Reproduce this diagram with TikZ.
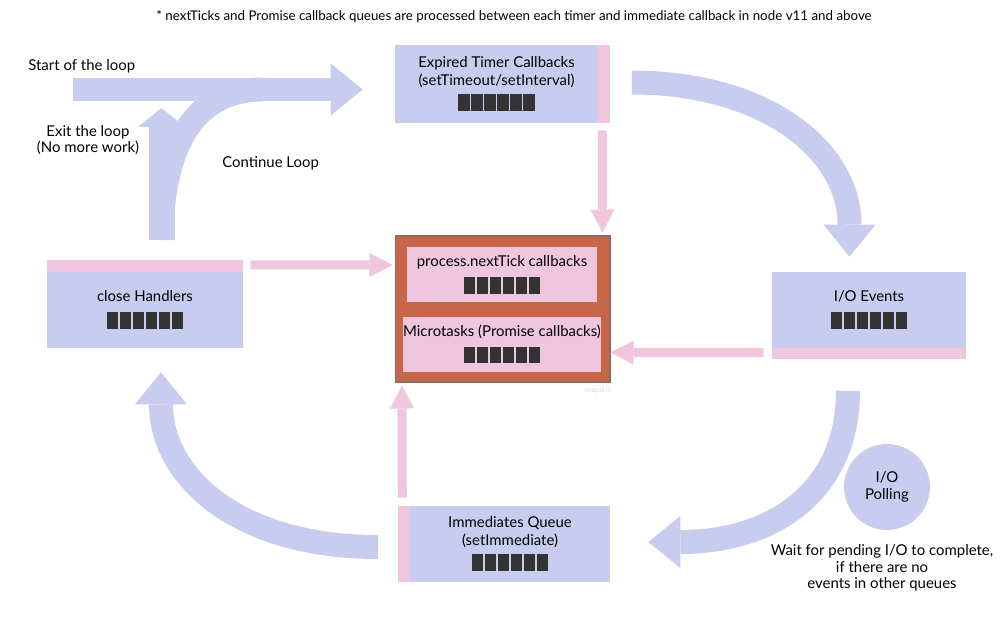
\documentclass[tikz,border=0pt]{standalone}
\usepackage{fontspec}
\setmainfont{Lato}
\usepackage{tikz}
\usetikzlibrary{positioning,calc,arrows.meta}

\definecolor{qblue}{HTML}{C8CDF0}
\definecolor{qpink}{HTML}{F0C6DF}
\definecolor{tickred}{HTML}{C8664A}
\definecolor{tickedge}{HTML}{8C6A60}
\definecolor{slotgray}{HTML}{333333}
\definecolor{markgray}{HTML}{E3D3EC}

\newcommand\oneslot{\rule{6.8pt}{9.6pt}\hspace{0.6pt}}
\newcommand\slotrow{{\color{slotgray}\oneslot\oneslot\oneslot\oneslot\oneslot\rule{6.8pt}{9.6pt}}}

\begin{document}
\begin{tikzpicture}[
  x=0.02cm, y=-0.02cm,
  every node/.style={font=\fontsize{8.5}{10.2}\selectfont},
  queue/.style={fill=qblue,align=center,inner sep=0pt,minimum height=1.52cm},
  strip/.style={fill=qpink,inner sep=0pt},
  tickbox/.style={fill=qpink,align=center,inner sep=0pt,minimum width=3.8cm,minimum height=1.1cm},
  remark/.style={align=center,inner sep=0pt},
  flow/.style={line width=0.48cm,color=qblue,-{Triangle[width=1.04cm,length=0.64cm,line width=0pt]}},
  pinkflow/.style={line width=0.18cm,color=qpink,-{Triangle[width=0.48cm,length=0.46cm,line width=0pt]}}
]
\useasboundingbox (0,0) rectangle (1000,625);
\fill[white] (0,0) rectangle (1000,625);

\node[queue,minimum width=4.06cm,minimum height=1.56cm] (timer) at (496.5,84) {Expired Timer Callbacks\\(setTimeout/setInterval)\\[2.5pt]\slotrow};
\node[strip,right=-0.4pt of timer,minimum width=0.25cm,minimum height=1.56cm] (timerstrip) {};

\node[fill=tickred,draw=tickedge,line width=0.6pt,minimum width=4.3cm,minimum height=2.92cm] (ticks) at (502.5,309) {};
\node[tickbox] (nexttick) at (502,274.5) {process.nextTick callbacks\\[3.5pt]\slotrow};
\node[tickbox,below=0.28cm of nexttick] (micro) {Microtasks (Promise callbacks)\\[3.5pt]\slotrow};
\node[text=markgray,font=\fontsize{4}{5}\selectfont] (mark) at (598,391) {deepal.io};

\node[queue,minimum width=3.92cm] (close) at (145,310) {close Handlers\\[5.5pt]\slotrow};
\node[strip,above=-0.4pt of close,minimum width=3.92cm,minimum height=0.25cm] (closestrip) {};

\node[queue,minimum width=3.88cm] (io) at (869,310) {I/O Events\\[5.5pt]\slotrow};
\node[strip,below=-0.4pt of io,minimum width=3.88cm,minimum height=0.23cm] (iostrip) {};

\node[queue,minimum width=4.0cm] (immediate) at (510,544) {Immediates Queue\\(setImmediate)\\[2.5pt]\slotrow};
\node[strip,left=-0.4pt of immediate,minimum width=0.25cm,minimum height=1.52cm] (immstrip) {};

\node[circle,fill=qblue,minimum size=1.72cm,align=center,inner sep=0pt,font=\fontsize{8.5}{9.8}\selectfont] (poll) at (887,487) {I/O\\Polling};

\node[remark,font=\fontsize{7.6}{9}\selectfont] (footnote) at (514,17) {* nextTicks and Promise callback queues are processed between each timer and immediate callback in node v11 and above};
\node[remark,anchor=west] (startlabel) at (28,66) {Start of the loop};
\node[remark,font=\fontsize{8.5}{9.2}\selectfont] (exitlabel) at (88,140) {Exit the loop\\(No more work)};
\node[remark,anchor=west] (contlabel) at (222,163) {Continue Loop};
\node[remark,font=\fontsize{8.5}{9.4}\selectfont] (waitlabel) at (882,568) {Wait for pending I/O to complete,\\if there are no\\events in other queues};

\coordinate (loopstart) at (73,89.5);
\coordinate (exitfoot) at (161.5,240);
\coordinate (exittip) at (161.5,108);
\coordinate (merge) at (262,89.5);

\draw[flow,-] (exitfoot) .. controls (161.5,150) and (192,89.5) .. (merge);
\draw[flow,line width=0.52cm,-{Triangle[width=0.94cm,length=0.38cm,line width=0pt]}] (exitfoot) -- (exittip);
\draw[flow,shorten >=0.64cm] (loopstart) -- (loopstart -| timer.west);

\draw[flow] ($(timerstrip.east)+(21,-1.5)$) .. controls (765,82.5) and (849.5,150) .. ($(io.north)+(-19.5,-15)$);
\draw[flow] ($(iostrip.south)+(-21,31)$) .. controls (848,490) and (775,542) .. ($(immediate.east)+(38,-2)$);
\draw[flow] ($(immstrip.west)+(-19,3)$) .. controls (235,547) and (161,475) .. ($(close.south)+(16,24)$);

\draw[pinkflow] ($(timerstrip.south)+(-2,7)$) -- ($(ticks.north east)+(-8,-3)$);
\draw[pinkflow] ($(closestrip.east)+(7,-1)$) -- ($(ticks.west)+(-2,-44)$);
\draw[pinkflow] ($(iostrip.west)+(-8,-1)$) -- ($(ticks.east)+(0,43.5)$);
\draw[pinkflow] ($(immstrip.north)+(-1.5,-8)$) -- ($(ticks.south west)+(7.5,3)$);

\end{tikzpicture}
\end{document}
